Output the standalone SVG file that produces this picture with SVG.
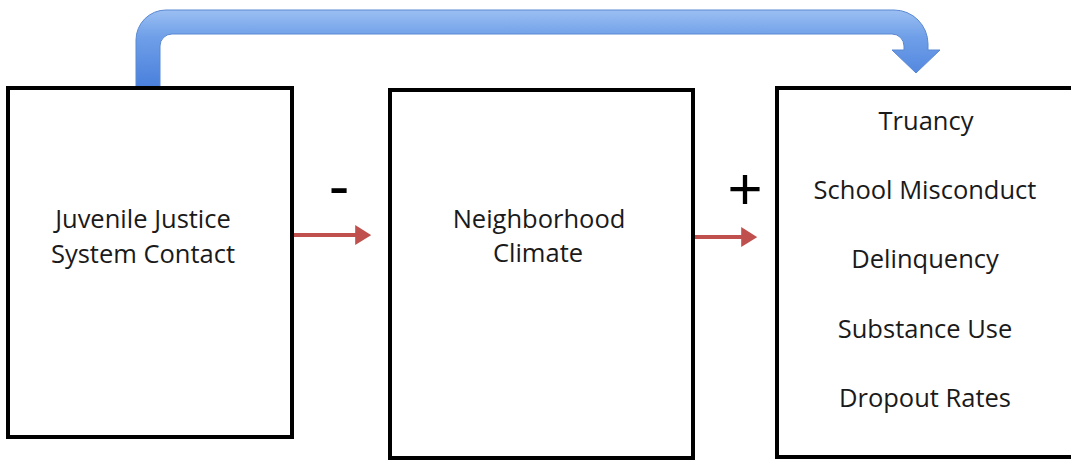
<svg xmlns="http://www.w3.org/2000/svg" width="1071" height="460" viewBox="0 0 1071 460">
  <defs>
    <linearGradient id="blueGrad" gradientUnits="userSpaceOnUse" x1="0" y1="10" x2="0" y2="87">
      <stop offset="0" stop-color="#9bbff2"/>
      <stop offset="0.35" stop-color="#6f9fe8"/>
      <stop offset="1" stop-color="#4a80dc"/>
    </linearGradient>
    <marker id="redHead" markerWidth="4" markerHeight="5" refX="3.2" refY="2.5" orient="auto" markerUnits="strokeWidth">
      <path d="M0,0 L4,2.5 L0,5 Z" fill="#c0504d"/>
    </marker>
    <style>
      .box { fill: #ffffff; stroke: #000000; stroke-width: 4; }
      .label { font-family: "Open Sans", "Liberation Sans", sans-serif; font-size: 25.5px; fill: #1a1a1a; text-anchor: middle; }
      .sign { font-family: "Liberation Sans", Arial, sans-serif; fill: #000000; text-anchor: middle; }
      .redArrow { stroke: #c0504d; stroke-width: 4; fill: none; marker-end: url(#redHead); }
    </style>
  </defs>

  <rect x="0" y="0" width="1071" height="460" fill="#ffffff"/>

  <!-- connectors -->
  <g id="connectors">
    <path id="feedback" d="M136,88 L136,40 A30,30 0 0 1 166,10 L894,10 A34,34 0 0 1 928,44 L928,50 L940,50 L916,73 L892,50 L904,50 L904,46 A12,12 0 0 0 892,34 L172,34 A12,12 0 0 0 160,46 L160,88 Z" fill="url(#blueGrad)" stroke="#5a89d2" stroke-width="1"/>
    <line x1="294" y1="235" x2="368" y2="235" class="redArrow"/>
    <line x1="695" y1="237" x2="754" y2="237" class="redArrow"/>
    <text class="sign" x="339" y="207" font-size="62">-</text>
    <text class="sign" x="745" y="209" font-size="60">+</text>
  </g>

  <!-- node: juvenile justice system contact -->
  <g id="node-contact">
    <rect class="box" x="8" y="88" width="284" height="349"/>
    <text class="label" x="143" y="228">Juvenile Justice</text>
    <text class="label" x="143" y="263">System Contact</text>
  </g>

  <!-- node: neighborhood climate -->
  <g id="node-climate">
    <rect class="box" x="390" y="90" width="303" height="368"/>
    <text class="label" x="539" y="228">Neighborhood</text>
    <text class="label" x="538" y="262">Climate</text>
  </g>

  <!-- node: outcomes -->
  <g id="node-outcomes">
    <rect class="box" x="777" y="88" width="310" height="369"/>
    <text class="label" x="926" y="130">Truancy</text>
    <text class="label" x="925" y="199">School Misconduct</text>
    <text class="label" x="925" y="268">Delinquency</text>
    <text class="label" x="925" y="338">Substance Use</text>
    <text class="label" x="925" y="407">Dropout Rates</text>
  </g>
</svg>
